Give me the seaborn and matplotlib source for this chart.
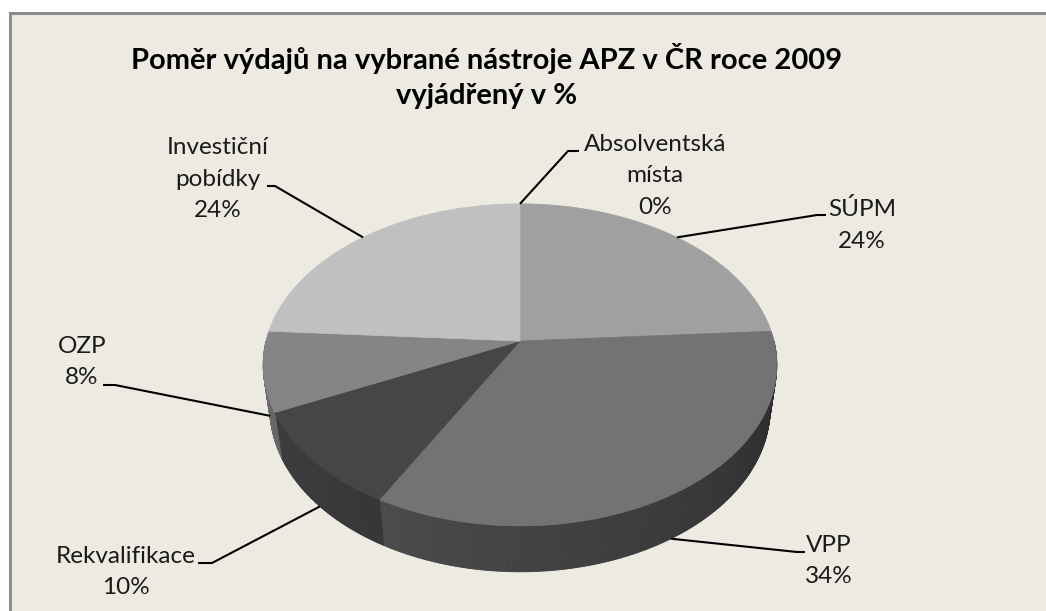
import numpy as np
import seaborn as sns
import matplotlib.pyplot as plt
from matplotlib.patches import Polygon, Rectangle

# data
kategorie = ["Absolventská místa", "SÚPM", "VPP", "Rekvalifikace", "OZP", "Investiční pobídky"]
popisky = ["Absolventská\nmísta", "SÚPM", "VPP", "Rekvalifikace", "OZP", "Investiční\npobídky"]
podil = [0, 24, 34, 10, 8, 24]

titulek = "Poměr výdajů na vybrané nástroje APZ v ČR roce 2009\nvyjádřený v %"

# barvy (vrch a bok vysece)
barva_vrch = ["#d0d0d0", "#a0a0a0", "#737373", "#464646", "#858585", "#c0c0c0"]
barva_bok = [200, 150, 92, 66, 110, 180]

# pozice popisku a lomu car (pixely)
popisek_xy = [(655, 176), (862, 225), (829, 561), (126, 572), (82, 362), (218, 179)]
lom = [[(568, 151), (579, 151)], [(817, 215), (826, 215)], [(797, 552), (805, 552)],
       [(212, 563), (198, 563)], [(115, 385), (103, 385)], [(275, 186), (267, 186)]]

sns.set_style("white")
plt.rcParams["font.family"] = ["Lato", "DejaVu Sans"]

# 3D pohled na kolac
CX, CY, S = 520, 341, 254
SIN, COS = 0.62, 0.785
D = 5.3
H = 0.227


def proj(theta, z=0.0, r=1.0):
    t = np.radians(theta)
    x, y = r * np.cos(t), r * np.sin(t)
    v = y * SIN + z * COS
    w = y * COS - z * SIN
    f = D / (D + w)
    return CX + x * f * S, CY - v * f * S


fig = plt.figure(figsize=(10.46, 6.11), dpi=100, facecolor="white")
ax = fig.add_axes([0, 0, 1, 1])
ax.set_xlim(0, 1046)
ax.set_ylim(611, 0)
ax.axis("off")

ax.add_patch(Rectangle((10, 13), 1100, 700, facecolor="#edebe1", edgecolor="#8c8c8c", lw=2.2))

total = sum(podil)
uhly = [90.0]
for p in podil:
    uhly.append(uhly[-1] - p / total * 360)

# boky
for i, p in enumerate(podil):
    a0, a1 = min(uhly[i], 0), max(uhly[i + 1], -180)
    if p == 0 or a0 <= a1:
        continue
    kroky = np.linspace(a0, a1, max(int((a0 - a1) * 2), 2))
    for t1, t2 in zip(kroky[:-1], kroky[1:]):
        f = 0.45 + 0.55 * (-(t1 + t2) / 2 / 180)
        g = np.clip(barva_bok[i] * f / 255, 0, 1)
        pts = [proj(t1), proj(t2), proj(t2, -H), proj(t1, -H)]
        ax.add_patch(Polygon(pts, closed=True, facecolor=(g, g, g), edgecolor=(g, g, g), lw=0.6))

# vrchni plochy
for i, p in enumerate(podil):
    if p == 0:
        continue
    kroky = np.linspace(uhly[i], uhly[i + 1], 200)
    pts = [proj(0, 0, 0)] + [proj(t) for t in kroky]
    ax.add_patch(Polygon(pts, closed=True, facecolor=barva_vrch[i], edgecolor=barva_vrch[i], lw=0.5))

# popisky a vodici cary
for i, p in enumerate(podil):
    stred = (uhly[i] + uhly[i + 1]) / 2
    z = 0 if np.sin(np.radians(stred)) >= 0 else -H
    kotva = proj(stred, z)
    body = [kotva] + lom[i]
    ax.plot([b[0] for b in body], [b[1] for b in body], color="black", lw=1.5, solid_capstyle="butt")
    ax.text(popisek_xy[i][0], popisek_xy[i][1], f"{popisky[i]}\n{p:.0f}%", ha="center", va="center",
            fontsize=17.5, color="#1a1a1a", linespacing=1.6)

ax.text(487, 76, titulek, ha="center", va="center", fontsize=21, fontweight="bold",
        color="black", linespacing=1.45)

plt.savefig("out.png", dpi=100, facecolor="white")
